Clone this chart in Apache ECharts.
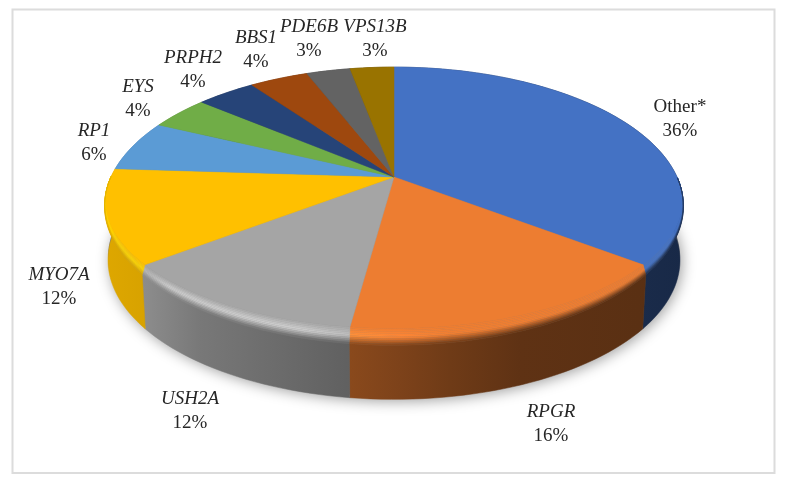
<!DOCTYPE html>
<html>
<head>
<meta charset="utf-8">
<title>Gene shares</title>
<style>
html, body { margin: 0; padding: 0; background: #fff; }
#main { width: 788px; height: 483px; }
</style>
<script src="https://cdn.jsdelivr.net/npm/echarts@6/dist/echarts.min.js"></script>
</head>
<body>
<div id="main"></div>
<script>
// slices, clockwise from 12 o'clock
var geneNames = ['Other*', 'RPGR', 'USH2A', 'MYO7A', 'RP1', 'EYS', 'PRPH2', 'BBS1', 'PDE6B', 'VPS13B'];
var geneShares = [36, 16, 12, 12, 6, 4, 4, 4, 3, 3];
var sliceColors = ['#4472C4', '#ED7D31', '#A5A5A5', '#FFC000', '#5B9BD5', '#70AD47', '#264478', '#9E480E', '#636363', '#997300'];

// centre of each label (x, y of the name line)
var labelAt = [[680, 106], [551, 411], [190, 398], [59, 274], [94, 130], [138, 86], [193, 57], [256, 37], [309, 26], [375, 26]];

// perspective of the disc
var cx = 394, cy = 177, discA = 283, discB = 133, persp = 0.21;
var depth = 54;
var bevelSteps = 10;

// how dark the wall gets going left to right, [x, factor]
var wallShade = [[104, 0.87], [150, 0.84], [200, 0.73], [300, 0.63], [352, 0.58], [450, 0.47], [520, 0.40], [640, 0.38], [684, 0.36]];
// how strong the bevel highlight is, [x, factor]
var bevelLight = [[104, 0.45], [148, 0.5], [170, 1], [300, 1], [370, 0.45], [450, 0.05], [684, 0]];

var total = 0;
for (var n = 0; n < geneShares.length; n++) { total += geneShares[n]; }

function rimPoint(angle, r) {
    var u = Math.sin(angle) * r;
    var v = -Math.cos(angle) * r;
    var d = 1 - persp * v;
    return [cx + discA * u / d, cy + discB * v / d];
}

function bottomPoint(angle) {
    var p = rimPoint(angle, 1);
    return [cx + (p[0] - cx) * 0.988, p[1] + depth];
}

// point of the inner bevel edge, t=0 inner, t=1 the rim
function bevelPoint(angle, t) {
    var f = bevelAmount(angle);
    var p = rimPoint(angle, 1 - 0.014 * f * (1 - t));
    return [p[0], p[1] - 14 * f * (1 - t)];
}

function bevelAmount(angle) {
    var v = -Math.cos(angle);
    return Math.max(0, v + 0.02) / 1.02;
}

function sliceRange(index) {
    var before = 0;
    for (var i = 0; i < index; i++) { before += geneShares[i]; }
    var start = before / total * Math.PI * 2;
    var end = (before + geneShares[index]) / total * Math.PI * 2;
    return [start, end];
}

function arcAngles(start, end) {
    var steps = Math.max(4, Math.ceil((end - start) / 0.03));
    var out = [];
    for (var i = 0; i <= steps; i++) { out.push(start + (end - start) * i / steps); }
    return out;
}

function toRgb(hex) {
    return [parseInt(hex.substr(1, 2), 16), parseInt(hex.substr(3, 2), 16), parseInt(hex.substr(5, 2), 16)];
}

function rgbStr(c) {
    return 'rgb(' + Math.round(c[0]) + ',' + Math.round(c[1]) + ',' + Math.round(c[2]) + ')';
}

function mix(a, b, t) {
    return [a[0] + (b[0] - a[0]) * t, a[1] + (b[1] - a[1]) * t, a[2] + (b[2] - a[2]) * t];
}

function lookup(table, x) {
    if (x <= table[0][0]) { return table[0][1]; }
    for (var i = 1; i < table.length; i++) {
        if (x <= table[i][0]) {
            var a = table[i - 1], b = table[i];
            return a[1] + (b[1] - a[1]) * (x - a[0]) / (b[0] - a[0]);
        }
    }
    return table[table.length - 1][1];
}

function wallColor(base, x) {
    var s = lookup(wallShade, x);
    return [base[0] * s, base[1] * s, base[2] * s];
}

function lightColor(base, x) {
    var h = lookup(bevelLight, x);
    return [
        Math.min(255, base[0] * (1 + 0.22 * h) + 6 * h),
        Math.min(255, base[1] * (1 + 0.22 * h) + 6 * h),
        Math.min(255, base[2] * (1 + 0.22 * h) + 6 * h)
    ];
}

var stopXs = [104, 148, 170, 200, 250, 300, 352, 400, 450, 520, 640, 684];

function xGradient(colorAt) {
    var stops = [];
    for (var i = 0; i < stopXs.length; i++) {
        stops.push({ offset: (stopXs[i] - 104) / 580, color: rgbStr(colorAt(stopXs[i])) });
    }
    return new echarts.graphic.LinearGradient(104, 0, 684, 0, stops, true);
}

function renderShadow() {
    var pts = [];
    var angles = arcAngles(0, Math.PI * 2);
    for (var i = 0; i < angles.length; i++) {
        var p = bottomPoint(angles[i]);
        pts.push([p[0], p[1] - 3]);
    }
    return {
        type: 'polygon',
        shape: { points: pts },
        style: { fill: '#777', shadowColor: 'rgba(0,0,0,0.38)', shadowBlur: 14, shadowOffsetX: 2, shadowOffsetY: 5 }
    };
}

function renderWall(params) {
    var range = sliceRange(params.dataIndex);
    var base = toRgb(sliceColors[params.dataIndex]);
    var angles = arcAngles(range[0], range[1]);
    var pts = [];
    var i;
    for (i = 0; i < angles.length; i++) { pts.push(rimPoint(angles[i], 1)); }
    for (i = angles.length - 1; i >= 0; i--) { pts.push(bottomPoint(angles[i])); }
    var fill = xGradient(function (x) { return wallColor(base, x); });
    return {
        type: 'polygon',
        shape: { points: pts },
        style: { fill: fill, stroke: fill, lineWidth: 0.5 }
    };
}

function renderTop(params) {
    var range = sliceRange(params.dataIndex);
    var color = sliceColors[params.dataIndex];
    var base = toRgb(color);
    var angles = arcAngles(range[0], range[1]);
    var pts = [[cx, cy]];
    var i;
    for (i = 0; i < angles.length; i++) { pts.push(bevelPoint(angles[i], 0)); }
    var children = [{
        type: 'polygon',
        shape: { points: pts },
        style: { fill: color, stroke: color, lineWidth: 0.5 }
    }];
    // only the part of the rim that faces the viewer has a bevel
    var visible = [];
    for (i = 0; i < angles.length; i++) {
        if (bevelAmount(angles[i]) > 0) { visible.push(angles[i]); }
    }
    if (visible.length < 2) {
        return { type: 'group', children: children };
    }
    // bevel, drawn as thin strips from the flat face out to the wall
    for (var j = 0; j < bevelSteps; j++) {
        var t0 = j / bevelSteps, t1 = (j + 1) / bevelSteps;
        children.push(bevelStrip(visible, base, t0, t1));
    }
    return { type: 'group', children: children };
}

function bevelStrip(angles, base, t0, t1) {
    var tm = (t0 + t1) / 2;
    var strip = [];
    var i;
    for (i = 0; i < angles.length; i++) { strip.push(bevelPoint(angles[i], t0)); }
    for (i = angles.length - 1; i >= 0; i--) { strip.push(bevelPoint(angles[i], t1)); }
    var fill = xGradient(function (x) {
        if (tm < 0.5) { return mix(base, lightColor(base, x), tm / 0.5); }
        return mix(lightColor(base, x), wallColor(base, x), (tm - 0.5) / 0.5);
    });
    return {
        type: 'polygon',
        shape: { points: strip },
        style: { fill: fill, stroke: fill, lineWidth: 0.4 }
    };
}

function renderLabel(params, api) {
    var i = params.dataIndex;
    var italic = geneNames[i] !== 'Other*';
    return {
        type: 'text',
        x: labelAt[i][0],
        y: labelAt[i][1] - 11,
        style: {
            text: '{n|' + geneNames[i] + '}\n{v|' + api.value(0) + '%}',
            align: 'center',
            verticalAlign: 'top',
            rich: {
                n: { fontFamily: 'Liberation Serif', fontSize: 19, fontStyle: italic ? 'italic' : 'normal', fill: '#262626', color: '#262626', lineHeight: 24 },
                v: { fontFamily: 'Liberation Serif', fontSize: 19, fill: '#262626', color: '#262626', lineHeight: 24 }
            }
        }
    };
}

window.onload = function () {
    var myChart = echarts.init(document.getElementById('main'), null, { renderer: 'canvas' });

    var seriesData = [];
    for (var i = 0; i < geneNames.length; i++) {
        seriesData.push({ name: geneNames[i], value: geneShares[i] });
    }

    var option = {
        backgroundColor: '#fff',
        animation: false,
        graphic: [{
            type: 'rect',
            silent: true,
            shape: { x: 12.5, y: 9.5, width: 762, height: 463.5 },
            style: { fill: 'none', stroke: '#dcdcdc', lineWidth: 2 }
        }],
        series: [
            { type: 'custom', coordinateSystem: 'none', silent: true, z: 1, data: [0], renderItem: renderShadow },
            { type: 'custom', coordinateSystem: 'none', silent: true, z: 2, data: seriesData, renderItem: renderWall },
            { type: 'custom', coordinateSystem: 'none', silent: true, z: 3, data: seriesData, renderItem: renderTop },
            { type: 'custom', coordinateSystem: 'none', silent: true, z: 4, data: seriesData, renderItem: renderLabel }
        ]
    };
    myChart.setOption(option);
};
</script>
</body>
</html>
